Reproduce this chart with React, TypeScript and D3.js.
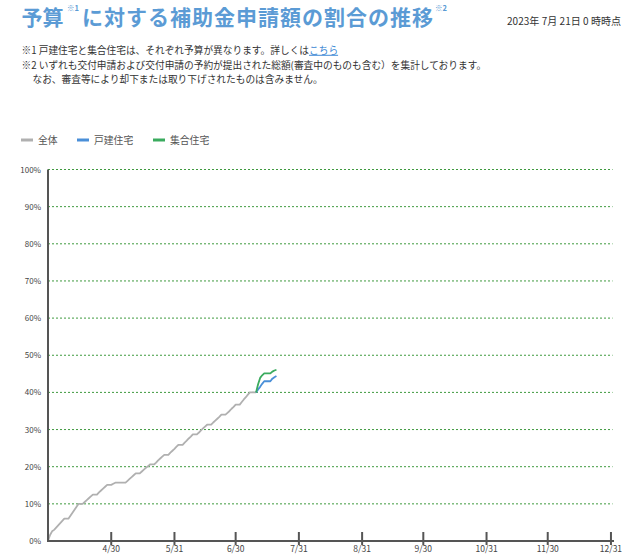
import React, { useEffect, useRef } from 'react';
import * as d3 from 'd3';

// series
const seriesNames = ['全体', '戸建住宅', '集合住宅'];
const seriesColors = ['#b0b0b0', '#4a8fd8', '#3aab5e'];

// 全体: one value per day from 3/30 to 7/10 (%)
const totalStart = '2023-03-30';
const totalValues = [
  0.0, 1.6, 2.6, 3.0, 3.6, 4.2, 4.8, 5.4, 6.0, 6.0, 6.0, 6.8, 7.6, 8.4, 9.2, 10.0,
  10.0, 10.0, 10.5, 11.0, 11.5, 12.0, 12.5, 12.5, 12.5, 13.1, 13.6, 14.1, 14.6, 15.1,
  15.1, 15.1, 15.4, 15.7, 15.7, 15.7, 15.7, 15.7, 15.7, 16.2, 16.7, 17.2, 17.7, 18.2,
  18.2, 18.2, 18.7, 19.2, 19.7, 20.1, 20.6, 20.6, 20.6, 21.1, 21.7, 22.2, 22.7, 23.2,
  23.2, 23.2, 23.8, 24.3, 24.8, 25.4, 25.9, 25.9, 25.9, 26.5, 27.0, 27.6, 28.1, 28.7,
  28.7, 28.7, 29.2, 29.8, 30.3, 30.8, 31.3, 31.3, 31.3, 31.9, 32.4, 32.9, 33.4, 34.0,
  34.0, 34.0, 34.5, 35.0, 35.6, 36.1, 36.7, 36.7, 36.7, 37.4, 38.1, 38.7, 39.4, 40.0,
  40.0, 40.0, 40.0,
];

// 戸建住宅 / 集合住宅: one value per day from 7/10 to 7/20 (%)
const splitStart = '2023-07-10';
const detachedValues = [40.0, 40.8, 41.5, 42.3, 43.0, 43.0, 43.0, 43.0, 43.7, 44.1, 44.4];
const apartmentValues = [40.0, 42.2, 43.9, 44.6, 45.1, 45.1, 45.1, 45.1, 45.6, 45.9, 46.1];

const xTickLabels = ['4/30', '5/31', '6/30', '7/31', '8/31', '9/30', '10/31', '11/30', '12/31'];
const yTicks = [0, 10, 20, 30, 40, 50, 60, 70, 80, 90, 100];

const FONT = '"Noto Sans CJK JP", "Noto Sans", sans-serif';

const parse = d3.timeParse('%Y-%m-%d');
const parseTick = d3.timeParse('%Y/%m/%d');

const toSeries = (start: string, values: number[]) => {
  const s = parse(start) as Date;
  return values.map((v, i) => ({ date: d3.timeDay.offset(s, i), value: v }));
};

const ChartPage: React.FC = () => {
  const gRef = useRef<SVGGElement>(null);

  useEffect(() => {
    const svg = d3.select(gRef.current);
    svg.selectAll('*').remove();

    const left = 48;
    const right = 613;
    const top = 169.5;
    const bottom = 541;

    const x = d3.scaleTime()
      .domain([parse('2023-03-30') as Date, parse('2024-01-01') as Date])
      .range([left, right]);
    const y = d3.scaleLinear().domain([0, 100]).range([bottom, top]);

    // grid
    svg.append('g')
      .selectAll('line')
      .data(yTicks.filter(t => t > 0))
      .enter()
      .append('line')
      .attr('x1', left)
      .attr('x2', right - 0.5)
      .attr('y1', d => y(d))
      .attr('y2', d => y(d))
      .attr('stroke', '#3f9a3f')
      .attr('stroke-width', 1)
      .attr('stroke-dasharray', '2,2');

    // y labels
    svg.append('g')
      .selectAll('text')
      .data(yTicks)
      .enter()
      .append('text')
      .attr('x', 41)
      .attr('y', d => y(d) + 3)
      .attr('text-anchor', 'end')
      .attr('font-size', 8)
      .attr('font-family', FONT)
      .attr('fill', '#444')
      .text(d => `${d}%`);

    // lines
    const line = d3.line<{ date: Date; value: number }>()
      .x(d => x(d.date))
      .y(d => y(d.value));

    const series = [
      toSeries(totalStart, totalValues),
      toSeries(splitStart, detachedValues),
      toSeries(splitStart, apartmentValues),
    ];
    series.forEach((s, i) => {
      svg.append('path')
        .datum(s)
        .attr('d', line)
        .attr('fill', 'none')
        .attr('stroke', seriesColors[i])
        .attr('stroke-width', 1.8)
        .attr('stroke-linejoin', 'round');
    });

    // axes
    svg.append('line')
      .attr('x1', left).attr('x2', left)
      .attr('y1', top).attr('y2', bottom + 1)
      .attr('stroke', '#555').attr('stroke-width', 2);
    svg.append('line')
      .attr('x1', left - 1).attr('x2', right + 1)
      .attr('y1', bottom).attr('y2', bottom)
      .attr('stroke', '#555').attr('stroke-width', 2);

    const ticks = svg.append('g')
      .selectAll('g')
      .data(xTickLabels.map(l => ({ label: l, date: parseTick(`2023/${l}`) as Date })))
      .enter()
      .append('g')
      .attr('transform', d => `translate(${x(d.date)},0)`);
    ticks.append('line')
      .attr('y1', bottom - 9)
      .attr('y2', bottom + 4)
      .attr('stroke', '#555')
      .attr('stroke-width', 2);
    ticks.append('text')
      .attr('y', bottom + 10.5)
      .attr('text-anchor', 'middle')
      .attr('font-size', 8.5)
      .attr('font-family', FONT)
      .attr('fill', '#444')
      .text(d => d.label);

    // legend
    const lx = [21, 77, 153];
    seriesNames.forEach((name, i) => {
      svg.append('line')
        .attr('x1', lx[i]).attr('x2', lx[i] + 12)
        .attr('y1', 140).attr('y2', 140)
        .attr('stroke', seriesColors[i]).attr('stroke-width', 3);
      svg.append('text')
        .attr('x', lx[i] + 17)
        .attr('y', 143.5)
        .attr('font-size', 9.8)
        .attr('font-family', FONT)
        .attr('fill', '#555')
        .text(name);
    });
  }, []);

  const titleColor = '#5b9bd5';

  return (
    <svg width={640} height={554} style={{ display: 'block' }}>
      {/* title */}
      <text x={21.5} y={25} fontSize={21} fontWeight="bold" fontFamily={FONT} fill={titleColor} textLength={42} lengthAdjust="spacing">予算</text>
      <text x={67} y={11} fontSize={7.5} fontWeight="bold" fontFamily={FONT} fill={titleColor}>※1</text>
      <text x={82} y={25} fontSize={21} fontWeight="bold" fontFamily={FONT} fill={titleColor} textLength={351} lengthAdjust="spacing">に対する補助金申請額の割合の推移</text>
      <text x={435} y={11} fontSize={7.5} fontWeight="bold" fontFamily={FONT} fill={titleColor}>※2</text>
      <text x={507} y={25} fontSize={10} fontFamily={FONT} fill="#333" textLength={114} lengthAdjust="spacing">2023年 7月 21日 0 時時点</text>

      {/* notes */}
      <text x={21.5} y={53.8} fontSize={9.7} fontFamily={FONT} fill="#333">
        ※1 戸建住宅と集合住宅は、それぞれ予算が異なります。詳しくは
        <tspan fill="#3b87d4" style={{ textDecoration: 'underline' }}>こちら</tspan>
      </text>
      <text x={21.5} y={68.5} fontSize={9.7} fontFamily={FONT} fill="#333">
        ※2 いずれも交付申請および交付申請の予約が提出された総額(審査中のものも含む）を集計しております。
      </text>
      <text x={32.5} y={82.5} fontSize={9.7} fontFamily={FONT} fill="#333">
        なお、審査等により却下または取り下げされたものは含みません。
      </text>
      <g ref={gRef} />
    </svg>
  );
};

export default function App() {
  return (
    <div style={{ position: 'absolute', left: 0, top: 0, background: '#fff' }}>
      <ChartPage />
    </div>
  );
}
